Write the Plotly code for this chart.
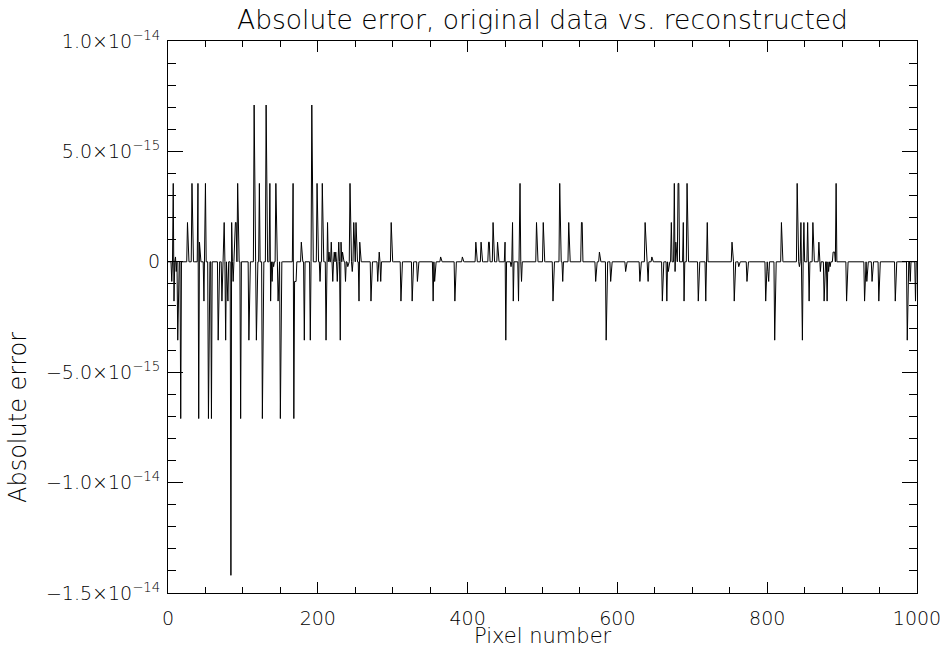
import numpy as np
import plotly.graph_objects as go

# Sparse non-zero errors (pixel index, error value)
spike_pixels = [5, 7, 8, 10, 11, 13, 17, 26, 32, 40, 41, 42, 48, 50, 54, 58, 67, 72, 75, 77,
                79, 80, 84, 85, 87, 89, 90, 91, 93, 97, 108, 115, 118, 122, 126, 131, 132, 136,
                137, 139, 141, 144, 147, 150, 167, 168, 169, 170, 171, 178, 182, 190, 192, 199,
                203, 206, 211, 213, 215, 218, 220, 222, 224, 226, 228, 230, 231, 233, 237, 240,
                243, 246, 248, 251, 252, 255, 256, 271, 280, 282, 284, 298, 311, 326, 333, 354,
                356, 364, 383, 393, 411, 418, 428, 429, 434, 440, 450, 451, 458, 460, 461, 468,
                470, 472, 492, 501, 514, 523, 527, 535, 552, 553, 571, 576, 585, 591, 611, 630,
                637, 638, 639, 641, 646, 660, 666, 668, 672, 676, 677, 678, 681, 682, 688, 689,
                693, 708, 718, 720, 753, 756, 762, 773, 798, 801, 802, 810, 819, 840, 843, 845,
                847, 849, 854, 856, 861, 869, 871, 876, 880, 882, 884, 888, 889, 890, 892, 906,
                930, 933, 940, 949, 971, 987, 991, 998]
spike_errors = [-0.89e-15, 3.55e-15, -1.78e-15, 0.22e-15, -0.44e-15, -3.55e-15, -7.1e-15, 1.78e-15,
                3.55e-15, 3.55e-15, -7.1e-15, 0.89e-15, -1.78e-15, 3.55e-15, -7.1e-15, -7.1e-15,
                -3.55e-15, -1.78e-15, 1.78e-15, -3.55e-15, -1.78e-15, -1.78e-15, -14.2e-15,
                1.78e-15, -0.89e-15, 1.78e-15, 1.78e-15, 1.78e-15, 3.55e-15, -7.1e-15, -3.55e-15,
                7.1e-15, -3.55e-15, 3.55e-15, -7.1e-15, 7.1e-15, 3.55e-15, 3.55e-15, -1.78e-15,
                -0.89e-15, -0.22e-15, 3.55e-15, -1.78e-15, -7.1e-15, 3.55e-15, -7.1e-15,
                -0.89e-15, -0.89e-15, -0.89e-15, 0.89e-15, -3.55e-15, -3.55e-15, 7.1e-15,
                3.55e-15, -0.89e-15, 3.55e-15, -3.55e-15, 1.78e-15, 0.44e-15, 0.89e-15,
                -0.89e-15, 0.44e-15, 0.44e-15, -0.89e-15, 0.89e-15, -3.55e-15, 0.89e-15,
                0.44e-15, -0.89e-15, -0.22e-15, 3.55e-15, -0.44e-15, 1.78e-15, 1.78e-15,
                0.44e-15, -1.78e-15, 0.89e-15, -1.78e-15, -0.89e-15, 0.44e-15, -0.89e-15,
                1.78e-15, -1.78e-15, -1.78e-15, -0.89e-15, -1.78e-15, -0.89e-15, 0.22e-15,
                -1.78e-15, 0.22e-15, 0.89e-15, 0.89e-15, 0.89e-15, 0.89e-15, 1.78e-15, 0.89e-15,
                0.89e-15, -3.55e-15, -0.22e-15, 1.78e-15, -1.78e-15, -1.78e-15, 3.55e-15,
                -0.89e-15, 1.78e-15, 1.78e-15, -1.78e-15, 3.55e-15, -0.89e-15, 1.78e-15,
                1.78e-15, 1.78e-15, -0.89e-15, 0.44e-15, -3.55e-15, -0.89e-15, -0.44e-15,
                -0.89e-15, 1.78e-15, 0.89e-15, 0.89e-15, -0.89e-15, 0.22e-15, -1.78e-15,
                -1.78e-15, -0.44e-15, 1.78e-15, 3.55e-15, -0.44e-15, 0.89e-15, 3.55e-15,
                3.55e-15, 1.78e-15, -1.78e-15, 3.55e-15, -1.78e-15, -1.78e-15, 1.78e-15,
                0.89e-15, -1.78e-15, -0.22e-15, -0.89e-15, -1.78e-15, -0.44e-15, -0.89e-15,
                -3.55e-15, 1.78e-15, 3.55e-15, -0.22e-15, 1.78e-15, -3.55e-15, 1.78e-15,
                1.78e-15, -1.78e-15, 1.78e-15, 0.89e-15, -0.44e-15, -1.78e-15, -1.78e-15,
                -0.44e-15, -0.22e-15, 0.44e-15, 0.44e-15, 0.44e-15, 3.55e-15, -1.78e-15,
                -1.78e-15, -0.89e-15, -0.89e-15, -1.78e-15, -1.78e-15, -3.55e-15, -0.89e-15,
                -1.78e-15]

n_pixels = 1000
pixels = np.arange(n_pixels)
errors = np.zeros(n_pixels)
errors[spike_pixels] = spike_errors

y_tickvals = [-1.5e-14, -1.0e-14, -5.0e-15, 0, 5.0e-15, 1.0e-14]
y_ticktext = ["−1.5×10<sup>−14</sup>", "−1.0×10<sup>−14</sup>", "−5.0×10<sup>−15</sup>", "0",
              "5.0×10<sup>−15</sup>", "1.0×10<sup>−14</sup>"]
x_tickvals = [0, 200, 400, 600, 800, 1000]
x_ticktext = ["0", "200", "400", "600", "800", "1000"]

font = "DejaVu Sans"
ink = "#000000"

W, H = 945, 652
L, R, T, B = 168, 28, 41, 59
plot_w = W - L - R
plot_h = H - T - B

fig = go.Figure()
fig.add_trace(go.Scatter(x=pixels, y=errors, mode="lines",
                         line=dict(color="black", width=1), showlegend=False,
                         hoverinfo="skip"))

fig.update_layout(
    width=W, height=H,
    margin=dict(l=L, r=R, t=T, b=B, autoexpand=False),
    paper_bgcolor="white", plot_bgcolor="white",
    font=dict(family=font, size=19, color=ink, weight=200),
    title=dict(text="Absolute error, original data vs. reconstructed",
               x=(L + plot_w / 2) / W, xanchor="center", y=1 - 20 / H, yanchor="middle",
               font=dict(family=font, size=26.5, color=ink, weight=200)),
    annotations=[
        dict(text="Pixel number", xref="paper", yref="paper",
             x=0.5, y=-(636 - (H - B)) / plot_h, xanchor="center", yanchor="middle",
             showarrow=False, font=dict(family=font, size=21, color=ink, weight=200)),
        dict(text="Absolute error", xref="paper", yref="paper", textangle=-90,
             x=(18 - L) / plot_w, y=((H - B) - 418) / plot_h, xanchor="center", yanchor="middle",
             showarrow=False, font=dict(family=font, size=24, color=ink, weight=200)),
    ],
)
fig.update_xaxes(
    range=[0, 1000], showgrid=False, zeroline=False, automargin=False,
    showline=True, linecolor="black", linewidth=1, mirror="ticks",
    ticks="inside", ticklen=11, tickcolor="black", tickwidth=1,
    tickvals=x_tickvals, ticktext=x_ticktext,
    minor=dict(ticks="inside", ticklen=6, dtick=50, tick0=0, tickcolor="black", showgrid=False),
    ticklabelstandoff=8, ticklabeloverflow="allow",
)
fig.update_yaxes(
    range=[-1.5e-14, 1.0e-14], showgrid=False, zeroline=False, automargin=False,
    showline=True, linecolor="black", linewidth=1, mirror="ticks",
    ticks="inside", ticklen=15, tickcolor="black", tickwidth=1,
    tickvals=y_tickvals, ticktext=y_ticktext,
    minor=dict(ticks="inside", ticklen=8, dtick=1e-15, tick0=0, tickcolor="black", showgrid=False),
    ticklabelstandoff=3,
)

# remove the browser's default 8px body margin so the 945x652 figure fills the window
fig.write_html("out.html", config={"displayModeBar": False},
               post_script="document.body.style.margin='0';document.body.style.overflow='hidden';")
